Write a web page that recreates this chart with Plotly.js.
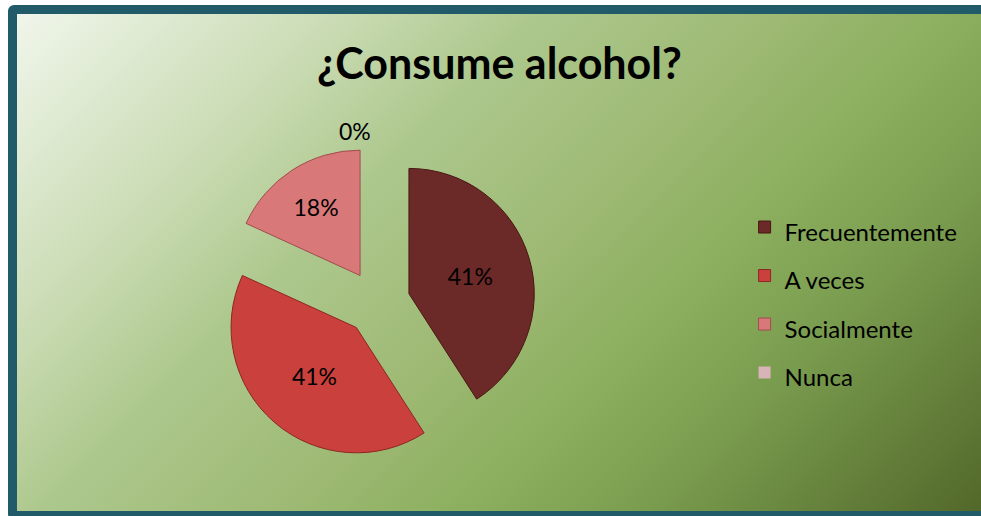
<!DOCTYPE html>
<html>
<head>
<meta charset="utf-8">
<script src="https://cdn.plot.ly/plotly-3.0.1.min.js"></script>
<style>
  html, body { margin: 0; padding: 0; width: 981px; height: 516px; overflow: hidden; background: #ffffff; position: relative; }
  #frame {
    position: absolute; left: 8px; top: 5px; width: 982px; height: 497px;
    border: 9px solid #215A68; border-radius: 6px;
    background: linear-gradient(135deg, #F0F6EB 0%, #C8DAB1 23%, #ADC88D 35%, #9DB973 52%, #8BAF5E 64%, #789A4D 77%, #506528 100%);
  }
  #chart { position: absolute; left: 0; top: 0; width: 981px; height: 516px; }
</style>
</head>
<body>
<div id="frame"></div>
<div id="chart"></div>
<script>
const titleText = "¿Consume alcohol?";
const categories = ["Frecuentemente", "A veces", "Socialmente", "Nunca"];
const values = [9, 9, 4, 0];
const colors = ["#6B2A28", "#C9403C", "#D97879", "#D8B3B7"];
const lineColors = ["#4A1715", "#8E2624", "#A04C4D", "#A08084"];

const FONT = "Lato, 'Open Sans', sans-serif";
const legendLabels = categories.map(c => '<span style="font-size:24px">' + c + '</span>');

const data = [{
  type: "pie",
  labels: legendLabels,
  values: values,
  sort: false,
  direction: "clockwise",
  rotation: 0,
  pull: values.map(() => 0.26),
  marker: {
    colors: colors,
    line: { color: lineColors, width: values.map(v => v > 0 ? 1 : 0) }
  },
  textinfo: "percent",
  texttemplate: "%{percent:.0%}",
  textposition: values.map(v => v > 0 ? "inside" : "outside"),
  insidetextfont: { family: FONT, size: 23, color: "#000000" },
  outsidetextfont: { family: FONT, size: 23, color: "#000000" },
  insidetextorientation: "horizontal",
  domain: { x: [0.224, 0.546], y: [0.107, 0.719] },
  hoverinfo: "none"
}];

const layout = {
  width: 981, height: 516,
  margin: { l: 0, r: 0, t: 0, b: 0 },
  paper_bgcolor: "rgba(0,0,0,0)",
  plot_bgcolor: "rgba(0,0,0,0)",
  title: {
    text: "<b>" + titleText + "</b>",
    font: { family: FONT, size: 43, color: "#000000" },
    x: 0.509, xanchor: "center", y: 0.876, yanchor: "middle"
  },
  showlegend: true,
  legend: {
    x: 0.759, xanchor: "left", y: 0.419, yanchor: "middle",
    font: { family: FONT, size: 35, color: "#000000" },
    bgcolor: "rgba(0,0,0,0)",
    itemwidth: 30
  }
};

Plotly.newPlot("chart", data, layout, { displayModeBar: false, staticPlot: true });
</script>
</body>
</html>
